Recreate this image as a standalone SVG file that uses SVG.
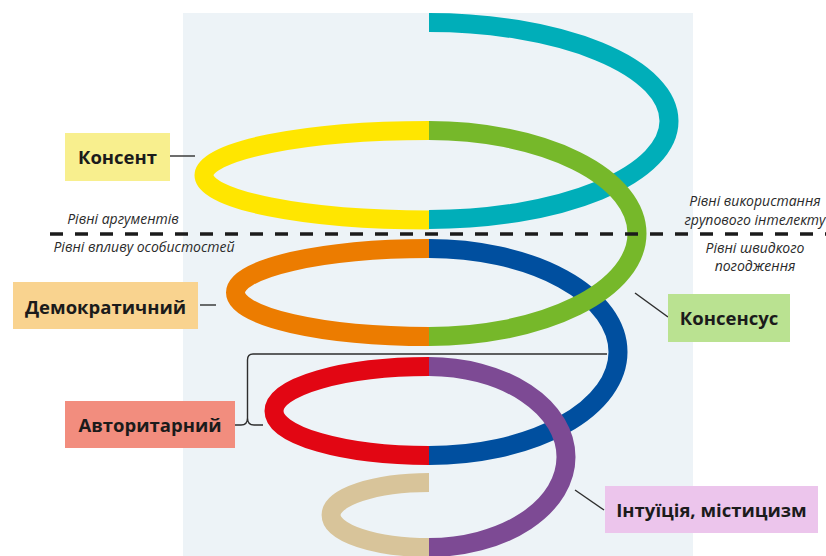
<svg xmlns="http://www.w3.org/2000/svg" width="826" height="556" viewBox="0 0 826 556">
  <style>
    .band { fill: none; stroke-width: 19; stroke-linecap: butt; }
    .lead { fill: none; stroke: #2e2e2e; stroke-width: 1.4; }
    .lbl { font-family: "Open Sans", "DejaVu Sans", sans-serif; font-weight: 700; font-size: 18.5px; fill: #1b1b1b; text-anchor: middle; }
    .lvl { font-family: "Open Sans", "DejaVu Sans", sans-serif; font-style: italic; font-size: 14px; fill: #2a2a2a; text-anchor: middle; }
  </style>

  <!-- backdrop panel -->
  <rect x="183" y="13" width="510" height="543" fill="#edf3f7"/>

  <!-- spiral bands: rear turns first, front turns last -->
  <g id="spiral">
    <path id="turn-cyan" class="band" stroke="#00aeb9" d="M429,22.5 A240,98.5 0 0 1 429,219.5"/>
    <path id="turn-blue" class="band" stroke="#004f9f" d="M429,248.5 A189,103.5 0 0 1 429,455.5"/>
    <path id="turn-yellow" class="band" stroke="#ffe600" d="M429,130.5 A225,44.75 0 0 0 429,220"/>
    <path id="turn-orange" class="band" stroke="#ec7c00" d="M429,248.5 A193.5,44 0 0 0 429,336.5"/>
    <path id="turn-red" class="band" stroke="#e20613" d="M429,366.5 A155,44.5 0 0 0 429,455.5"/>
    <path id="turn-tan" class="band" stroke="#d8c49a" d="M429,482.5 A98,32.5 0 0 0 429,547.5"/>
    <path id="turn-green" class="band" stroke="#76b82a" d="M429,130.5 A208,103 0 0 1 429,336.5"/>
    <path id="turn-purple" class="band" stroke="#7d4a94" d="M429,366.5 A137,90.5 0 0 1 429,547.5"/>
  </g>

  <!-- divider between argument levels and personal influence levels -->
  <line x1="50" y1="234" x2="826" y2="234" stroke="#1b1b1b" stroke-width="3.5" stroke-dasharray="13 12"/>

  <g id="level-captions">
    <text class="lvl" x="123" y="224">Рівні аргументів</text>
    <text class="lvl" x="144" y="252">Рівні впливу особистостей</text>
    <text class="lvl" x="755" y="206">Рівні використання</text>
    <text class="lvl" x="755" y="225">групового інтелекту</text>
    <text class="lvl" x="755" y="253">Рівні швидкого</text>
    <text class="lvl" x="755" y="271">погодження</text>
  </g>

  <!-- leader lines -->
  <g id="connectors">
    <line class="lead" x1="170" y1="156" x2="195" y2="156"/>
    <line class="lead" x1="200" y1="305" x2="216" y2="305"/>
    <path class="lead" d="M607,354 H253 Q247.5,354 247.5,360 V418 Q247.5,425 241,425 H235 M247.5,418 Q247.5,425 254,425 H263"/>
    <line class="lead" x1="635" y1="293" x2="668" y2="317"/>
    <line class="lead" x1="575" y1="490" x2="604" y2="510"/>
  </g>

  <g id="node-konsent">
    <rect x="65" y="133" width="105" height="48" fill="#f8ef8e"/>
    <text class="lbl" x="117.5" y="164">Консент</text>
  </g>
  <g id="node-demokratychnyi">
    <rect x="13" y="282" width="185" height="47" fill="#f9d38f"/>
    <text class="lbl" x="105.5" y="314">Демократичний</text>
  </g>
  <g id="node-avtorytarnyi">
    <rect x="65" y="401" width="170" height="47" fill="#f28d7e"/>
    <text class="lbl" x="150" y="432">Авторитарний</text>
  </g>
  <g id="node-konsensus">
    <rect x="668" y="294" width="122" height="48" fill="#bae291"/>
    <text class="lbl" x="729" y="325">Консенсус</text>
  </g>
  <g id="node-intuitsiia">
    <rect x="605" y="486" width="213" height="47" fill="#ecc5ec"/>
    <text class="lbl" x="711.5" y="517">Інтуїція, містицизм</text>
  </g>
</svg>
